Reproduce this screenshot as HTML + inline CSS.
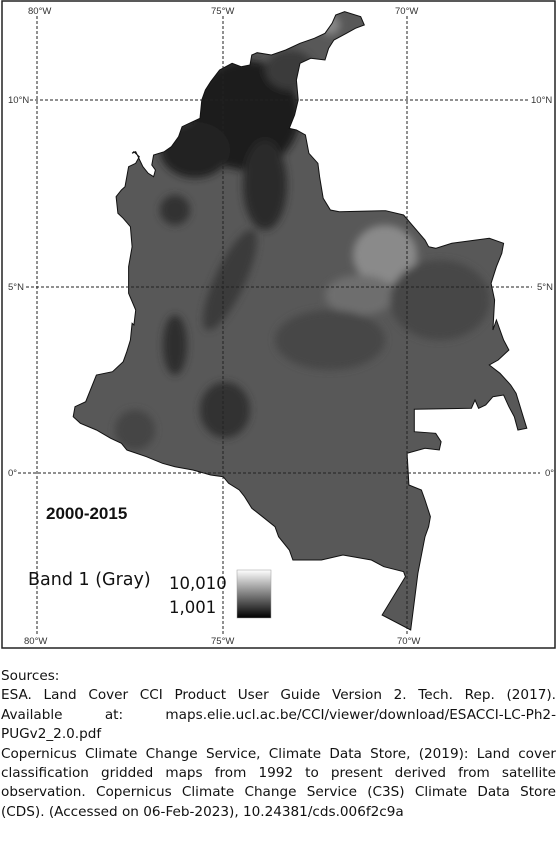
<!DOCTYPE html>
<html><head><meta charset="utf-8">
<style>
html,body{margin:0;padding:0;background:#fff;}
body{width:560px;height:849px;position:relative;overflow:hidden;font-family:"DejaVu Sans","Liberation Sans",sans-serif;}
#map{position:absolute;left:0;top:0;}
.src{position:absolute;left:1px;width:555px;font-size:13.6px;color:#111;}
.src div{height:19.4px;line-height:19.4px;white-space:nowrap;}
.j{text-align:justify;text-align-last:justify;}
</style></head><body>
<svg id="map" width="560" height="650" viewBox="0 0 560 650">
<defs>
<clipPath id="cp"><path id="cpath" d=""/></clipPath>
<linearGradient id="lg" x1="0" y1="1" x2="0" y2="0"><stop offset="0" stop-color="#000"/><stop offset="1" stop-color="#fff"/></linearGradient>
<filter id="bl"><feGaussianBlur stdDeviation="4"/></filter>
</defs>
<rect x="2" y="1" width="553" height="647" fill="#fff" stroke="#222" stroke-width="1.5"/>
<g clip-path="url(#cp)">
<rect x="0" y="0" width="560" height="650" fill="#585858"/>
<g filter="url(#bl)">
<ellipse cx="245" cy="115" rx="55" ry="55" fill="#1e1e1e"/>
<ellipse cx="195" cy="150" rx="35" ry="28" fill="#222"/>
<ellipse cx="290" cy="70" rx="25" ry="20" fill="#3a3a3a"/>
<ellipse cx="330" cy="25" rx="10" ry="10" fill="#888"/>
<ellipse cx="265" cy="185" rx="22" ry="45" fill="#2a2a2a"/>
<ellipse cx="385" cy="255" rx="32" ry="30" fill="#8a8a8a"/>
<ellipse cx="360" cy="295" rx="35" ry="20" fill="#6e6e6e"/>
<ellipse cx="440" cy="300" rx="50" ry="40" fill="#474747"/>
<ellipse cx="330" cy="340" rx="55" ry="30" fill="#464646"/>
<ellipse cx="225" cy="410" rx="25" ry="28" fill="#333"/>
<ellipse cx="175" cy="345" rx="12" ry="30" fill="#2e2e2e"/>
<ellipse cx="135" cy="430" rx="20" ry="20" fill="#444"/>
<ellipse cx="230" cy="280" rx="15" ry="55" fill="#3a3a3a" transform="rotate(25 230 280)"/>
<ellipse cx="175" cy="210" rx="15" ry="15" fill="#333"/>
</g>
</g>
<path id="outline" d="" fill="none" stroke="#111" stroke-width="1"/>
<g stroke="#222" stroke-width="1" stroke-dasharray="3,2">
<line x1="37" y1="16" x2="37" y2="634"/>
<line x1="223" y1="16" x2="223" y2="634"/>
<line x1="407" y1="16" x2="407" y2="634"/>
<line x1="30" y1="100" x2="530" y2="100"/>
<line x1="26" y1="287" x2="532" y2="287"/>
<line x1="18" y1="473" x2="540" y2="473"/>
</g>
<g font-family="Liberation Sans, sans-serif" font-size="9.5" fill="#333">
<text x="28" y="14">80°W</text><text x="211" y="14">75°W</text><text x="395" y="14">70°W</text>
<text x="24" y="644">80°W</text><text x="211" y="644">75°W</text><text x="397" y="644">70°W</text>
<text x="8" y="103">10°N</text><text x="531" y="103">10°N</text>
<text x="8" y="290">5°N</text><text x="537" y="290">5°N</text>
<text x="8" y="476">0°</text><text x="545" y="476">0°</text>
</g>
<text x="46" y="519" font-family="Liberation Sans, sans-serif" font-weight="bold" font-size="17" fill="#111">2000-2015</text>
<text x="28" y="585" font-family="DejaVu Sans, sans-serif" font-size="17.5" fill="#111">Band 1 (Gray)</text>
<text x="169" y="589" font-family="DejaVu Sans, sans-serif" font-size="16.5" fill="#111">10,010</text>
<text x="169" y="613" font-family="DejaVu Sans, sans-serif" font-size="16.5" fill="#111">1,001</text>
<rect x="237" y="570" width="34" height="48" fill="url(#lg)" stroke="#999" stroke-width="0.5"/>
</svg>
<div class="src" style="top:667px;">
<div>Sources:</div>
<div class="j">ESA. Land Cover CCI Product User Guide Version 2. Tech. Rep. (2017).</div>
<div class="j">Available at: maps.elie.ucl.ac.be/CCI/viewer/download/ESACCI-LC-Ph2-</div>
<div>PUGv2_2.0.pdf</div>
<div class="j">Copernicus Climate Change Service, Climate Data Store, (2019): Land cover</div>
<div class="j">classification gridded maps from 1992 to present derived from satellite</div>
<div class="j">observation. Copernicus Climate Change Service (C3S) Climate Data Store</div>
<div>(CDS). (Accessed on 06-Feb-2023), 10.24381/cds.006f2c9a</div>
</div>
<script>
var a=[[940,45],[965,35],[1010,50],[1020,75],[995,85],[970,100],[935,120],[920,145],[910,180],[870,175],[840,190],[830,240],[835,300],[825,345],[810,385],[830,390],[855,405],[865,460],[890,490],[895,530],[905,595],[925,630],[950,635],[1080,632],[1130,645],[1150,670],[1190,720],[1200,740],[1220,745],[1265,730],[1370,715],[1410,730],[1405,760],[1390,800],[1375,850],[1385,900],[1380,990]];
var b=[[1390,0],[1410,60],[1425,90],[1395,120],[1370,135],[1400,160],[1430,195],[1445,220],[1465,290],[1475,325],[1450,330],[1440,290],[1425,260],[1410,225],[1380,230],[1360,255],[1340,265],[1330,240],[1320,265],[1160,268],[1160,335],[1220,340],[1235,365],[1230,390],[1190,385],[1140,400],[1145,495],[1180,510],[1190,540],[1205,590],[1200,620],[1190,650],[1170,760],[1150,930],[1070,885],[1135,770],[1130,755],[1075,740],[1040,720],[960,705],[900,720],[820,720],[810,690],[780,650],[770,620],[735,590],[705,565],[685,530],[670,510],[640,490],[625,470],[590,465],[540,450],[490,440],[455,430],[410,410],[355,390],[340,370],[310,355],[270,330],[225,310],[205,290],[210,260],[240,245],[270,165],[315,155],[345,125],[355,95],[365,60],[370,10]];
var c=[[375,975],[380,930],[360,880],[360,800],[370,740],[365,680],[345,655],[330,640],[325,590],[340,570],[350,560],[360,500],[380,490],[390,470],[375,455],[370,460],[380,455],[400,500],[415,520],[430,530],[435,510],[425,495],[430,465],[460,455],[480,440],[500,410],[510,380],[530,370],[560,355],[565,300],[575,270],[590,245],[615,210],[650,190],[675,200],[700,195],[705,165],[720,158],[760,165],[800,150],[840,130],[880,115],[910,100],[930,70]];
var pts=[];
a.forEach(function(p){pts.push([p[0]/2.8,p[1]/3]);});
b.forEach(function(p){pts.push([p[0]/2.8,320+p[1]/3]);});
c.forEach(function(p){pts.push([p[0]/2.8,p[1]/3]);});
var d='M'+pts.map(function(p){return p[0].toFixed(1)+','+p[1].toFixed(1);}).join('L')+'Z';
document.getElementById('cpath').setAttribute('d',d);
document.getElementById('outline').setAttribute('d',d);
</script>
</body></html>
